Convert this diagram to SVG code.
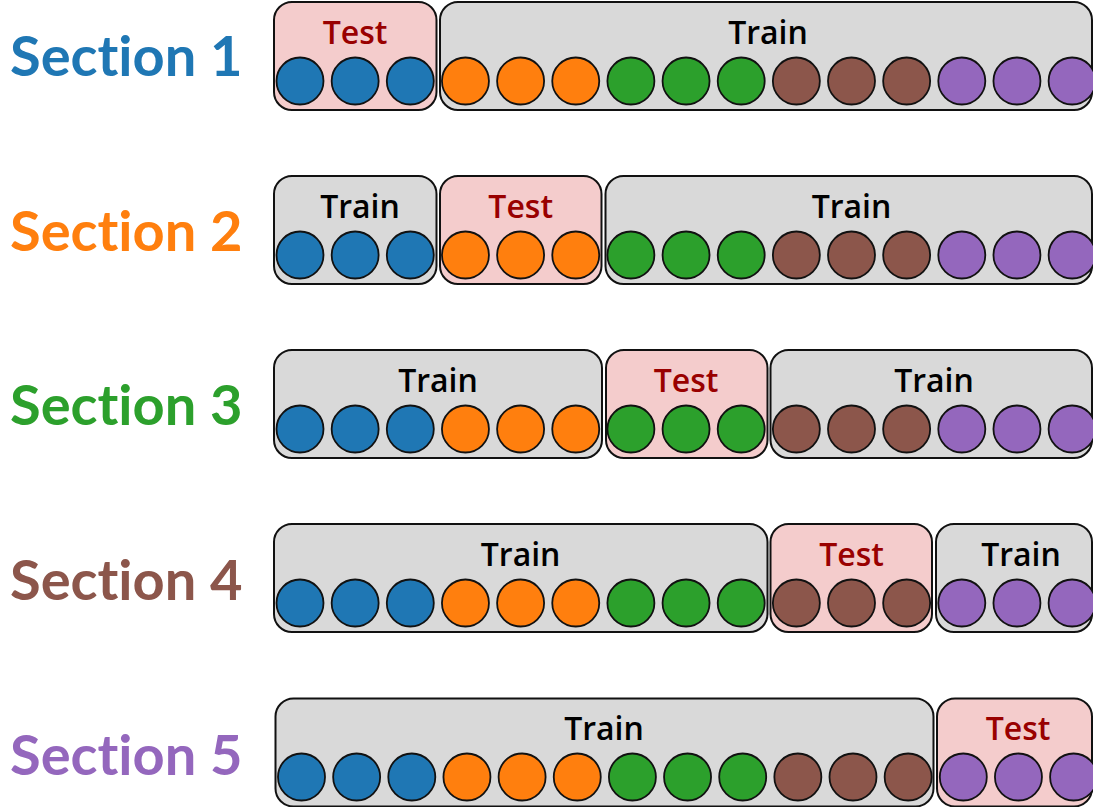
<svg xmlns="http://www.w3.org/2000/svg" width="1093" height="807" viewBox="0 0 1093 807">
<style>
.bg{fill:#ffffff}
.box{stroke:#111;stroke-width:2}
.test{fill:#f4cccc}
.train{fill:#d9d9d9}
.c{stroke:#111;stroke-width:1.8}
.b{fill:#1f77b4}.o{fill:#ff7f0e}.g{fill:#2ca02c}.r{fill:#8c564b}.p{fill:#9467bd}
.lbl{font-family:Lato,"Open Sans","Liberation Sans",sans-serif;font-weight:700;font-size:56px;font-variant-ligatures:none}
.tt{font-family:"Open Sans","Liberation Sans",sans-serif;font-weight:600;font-size:32px;text-anchor:middle}
.tr{fill:#990000}
.tn{fill:#000}
</style>
<rect class="bg" x="0" y="0" width="1093" height="807"/>

<g id="labels">
<text class="lbl" x="10" y="76" fill="#1f77b4">Section 1</text>
<text class="lbl" x="10" y="251" fill="#ff7f0e">Section 2</text>
<text class="lbl" x="10" y="425" fill="#2ca02c">Section 3</text>
<text class="lbl" x="10" y="600" fill="#8c564b">Section 4</text>
<text class="lbl" x="10" y="775" fill="#9467bd">Section 5</text>
</g>

<!-- Row 1 -->
<g id="row1">
<g id="r1-test"><rect class="box test" x="274" y="2" width="162.5" height="108" rx="18"/><text class="tt tr" x="355" y="44">Test</text></g>
<g id="r1-train"><rect class="box train" x="440" y="2" width="652" height="108" rx="18"/><text class="tt tn" x="768" y="44">Train</text></g>
<g id="r1-dots">
<circle class="c b" cx="300" cy="81" r="23.5"/><circle class="c b" cx="355.15" cy="81" r="23.5"/><circle class="c b" cx="410.3" cy="81" r="23.5"/>
<circle class="c o" cx="465.45" cy="81" r="23.5"/><circle class="c o" cx="520.6" cy="81" r="23.5"/><circle class="c o" cx="575.75" cy="81" r="23.5"/>
<circle class="c g" cx="630.9" cy="81" r="23.5"/><circle class="c g" cx="686.05" cy="81" r="23.5"/><circle class="c g" cx="741.2" cy="81" r="23.5"/>
<circle class="c r" cx="796.35" cy="81" r="23.5"/><circle class="c r" cx="851.5" cy="81" r="23.5"/><circle class="c r" cx="906.65" cy="81" r="23.5"/>
<circle class="c p" cx="961.8" cy="81" r="23.5"/><circle class="c p" cx="1016.95" cy="81" r="23.5"/><circle class="c p" cx="1072.1" cy="81" r="23.5"/>
</g>
</g>

<!-- Row 2 -->
<g id="row2">
<g id="r2-train-a"><rect class="box train" x="274" y="176" width="162.5" height="108" rx="18"/><text class="tt tn" x="360" y="218">Train</text></g>
<g id="r2-test"><rect class="box test" x="440" y="176" width="161.5" height="108" rx="18"/><text class="tt tr" x="520.7" y="218">Test</text></g>
<g id="r2-train-b"><rect class="box train" x="605.5" y="176" width="486.5" height="108" rx="18"/><text class="tt tn" x="851.5" y="218">Train</text></g>
<g id="r2-dots">
<circle class="c b" cx="300" cy="255" r="23.5"/><circle class="c b" cx="355.15" cy="255" r="23.5"/><circle class="c b" cx="410.3" cy="255" r="23.5"/>
<circle class="c o" cx="465.45" cy="255" r="23.5"/><circle class="c o" cx="520.6" cy="255" r="23.5"/><circle class="c o" cx="575.75" cy="255" r="23.5"/>
<circle class="c g" cx="630.9" cy="255" r="23.5"/><circle class="c g" cx="686.05" cy="255" r="23.5"/><circle class="c g" cx="741.2" cy="255" r="23.5"/>
<circle class="c r" cx="796.35" cy="255" r="23.5"/><circle class="c r" cx="851.5" cy="255" r="23.5"/><circle class="c r" cx="906.65" cy="255" r="23.5"/>
<circle class="c p" cx="961.8" cy="255" r="23.5"/><circle class="c p" cx="1016.95" cy="255" r="23.5"/><circle class="c p" cx="1072.1" cy="255" r="23.5"/>
</g>
</g>

<!-- Row 3 -->
<g id="row3">
<g id="r3-train-a"><rect class="box train" x="274" y="350" width="328" height="108" rx="18"/><text class="tt tn" x="438" y="392">Train</text></g>
<g id="r3-test"><rect class="box test" x="606" y="350" width="161.5" height="108" rx="18"/><text class="tt tr" x="686" y="392">Test</text></g>
<g id="r3-train-b"><rect class="box train" x="770.5" y="350" width="321.5" height="108" rx="18"/><text class="tt tn" x="934" y="392">Train</text></g>
<g id="r3-dots">
<circle class="c b" cx="300" cy="429" r="23.5"/><circle class="c b" cx="355.15" cy="429" r="23.5"/><circle class="c b" cx="410.3" cy="429" r="23.5"/>
<circle class="c o" cx="465.45" cy="429" r="23.5"/><circle class="c o" cx="520.6" cy="429" r="23.5"/><circle class="c o" cx="575.75" cy="429" r="23.5"/>
<circle class="c g" cx="630.9" cy="429" r="23.5"/><circle class="c g" cx="686.05" cy="429" r="23.5"/><circle class="c g" cx="741.2" cy="429" r="23.5"/>
<circle class="c r" cx="796.35" cy="429" r="23.5"/><circle class="c r" cx="851.5" cy="429" r="23.5"/><circle class="c r" cx="906.65" cy="429" r="23.5"/>
<circle class="c p" cx="961.8" cy="429" r="23.5"/><circle class="c p" cx="1016.95" cy="429" r="23.5"/><circle class="c p" cx="1072.1" cy="429" r="23.5"/>
</g>
</g>

<!-- Row 4 -->
<g id="row4">
<g id="r4-train-a"><rect class="box train" x="274" y="524" width="493.5" height="108" rx="18"/><text class="tt tn" x="520.6" y="566">Train</text></g>
<g id="r4-test"><rect class="box test" x="770.5" y="524" width="161.5" height="108" rx="18"/><text class="tt tr" x="851.5" y="566">Test</text></g>
<g id="r4-train-b"><rect class="box train" x="936" y="524" width="156" height="108" rx="18"/><text class="tt tn" x="1021" y="566">Train</text></g>
<g id="r4-dots">
<circle class="c b" cx="300" cy="603" r="23.5"/><circle class="c b" cx="355.15" cy="603" r="23.5"/><circle class="c b" cx="410.3" cy="603" r="23.5"/>
<circle class="c o" cx="465.45" cy="603" r="23.5"/><circle class="c o" cx="520.6" cy="603" r="23.5"/><circle class="c o" cx="575.75" cy="603" r="23.5"/>
<circle class="c g" cx="630.9" cy="603" r="23.5"/><circle class="c g" cx="686.05" cy="603" r="23.5"/><circle class="c g" cx="741.2" cy="603" r="23.5"/>
<circle class="c r" cx="796.35" cy="603" r="23.5"/><circle class="c r" cx="851.5" cy="603" r="23.5"/><circle class="c r" cx="906.65" cy="603" r="23.5"/>
<circle class="c p" cx="961.8" cy="603" r="23.5"/><circle class="c p" cx="1016.95" cy="603" r="23.5"/><circle class="c p" cx="1072.1" cy="603" r="23.5"/>
</g>
</g>

<!-- Row 5 -->
<g id="row5">
<g id="r5-train"><rect class="box train" x="275.5" y="698.5" width="658" height="108" rx="18"/><text class="tt tn" x="604" y="740">Train</text></g>
<g id="r5-test"><rect class="box test" x="937" y="698.5" width="155" height="108" rx="18"/><text class="tt tr" x="1018" y="740">Test</text></g>
<g id="r5-dots">
<circle class="c b" cx="301.5" cy="777" r="23.5"/><circle class="c b" cx="356.65" cy="777" r="23.5"/><circle class="c b" cx="411.8" cy="777" r="23.5"/>
<circle class="c o" cx="466.95" cy="777" r="23.5"/><circle class="c o" cx="522.1" cy="777" r="23.5"/><circle class="c o" cx="577.25" cy="777" r="23.5"/>
<circle class="c g" cx="632.4" cy="777" r="23.5"/><circle class="c g" cx="687.55" cy="777" r="23.5"/><circle class="c g" cx="742.7" cy="777" r="23.5"/>
<circle class="c r" cx="797.85" cy="777" r="23.5"/><circle class="c r" cx="853" cy="777" r="23.5"/><circle class="c r" cx="908.15" cy="777" r="23.5"/>
<circle class="c p" cx="963.3" cy="777" r="23.5"/><circle class="c p" cx="1018.45" cy="777" r="23.5"/><circle class="c p" cx="1073.6" cy="777" r="23.5"/>
</g>
</g>
</svg>
